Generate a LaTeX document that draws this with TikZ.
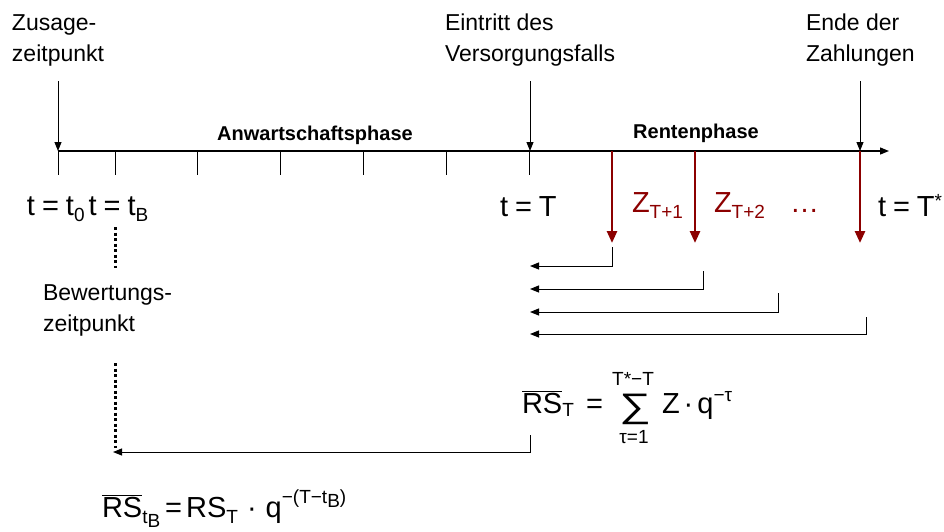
\documentclass[tikz,border=0pt]{standalone}
\usepackage{fontspec}
\setmainfont{Liberation Sans}
\usetikzlibrary{arrows.meta}
\definecolor{zred}{RGB}{140,0,0}
\newcommand{\lblf}{\fontsize{23}{31}\selectfont}
\newcommand{\mthf}{\fontsize{29}{30}\selectfont}
\newcommand{\sbsf}{\fontsize{19}{20}\selectfont}
\newcommand{\phf}{\fontsize{20}{20}\selectfont\bfseries}
\newcommand{\eqs}{\hspace{7pt}=\hspace{7pt}}
\newcommand{\sbx}[1]{\raisebox{-6pt}{\sbsf #1}}
\begin{document}
\begin{tikzpicture}[x=1pt,y=-1pt,
  every node/.style={inner sep=0pt,outer sep=0pt},
  lbl/.style={font=\lblf,align=left,anchor=base west},
  mth/.style={font=\mthf,anchor=base west},
  phase/.style={font=\phf,anchor=base},
  axisline/.style={line width=1.3pt,-{Triangle[length=9pt,width=7pt]}},
  tick/.style={line width=1pt},
  down/.style={line width=1pt,-{Triangle[length=9pt,width=7pt]}},
  pay/.style={zred,line width=2.6pt,-{Triangle[length=12pt,width=10pt]}},
  disc/.style={line width=1pt,-{Triangle[length=9pt,width=7pt]}},
  dots/.style={line width=3pt,dash pattern=on 3pt off 2.5pt}]
\useasboundingbox (0,0) rectangle (944,531);

% axis
\coordinate (a0) at (58,151);
\coordinate (aend) at (889,151);
\draw[axisline] (a0) -- (aend);
\foreach \x [count=\i] in {58,115,197,280,363,446,529}
  \draw[tick] (\x,151) coordinate (tk\i) -- (\x,175);

% top labels (base = last line)
\node[lbl] (zusage) at (12,61) {Zusage-\\zeitpunkt};
\node[lbl] (eintritt) at (445,61) {Eintritt des\\Versorgungsfalls};
\node[lbl] (ende) at (806,61) {Ende der\\Zahlungen};

\coordinate (zs0) at (58,81);  \coordinate (zs1) at (58,151);
\coordinate (ei0) at (530,81); \coordinate (ei1) at (530,151);
\coordinate (en0) at (860,81); \coordinate (en1) at (860,151);
\draw[down] (zs0) -- (zs1);
\draw[down] (ei0) -- (ei1);
\draw[down] (en0) -- (en1);

% phases
\node[phase] (anw) at (315,140) {Anwartschaftsphase};
\node[phase] (rente) at (696,138) {Rentenphase};

% time labels
\node[mth] (t0) at (27,215) {t\eqs t\sbx{0}\hspace{4pt}t\eqs t\sbx{B}};
\node[mth] (tT) at (500,216) {t\eqs T};
\node[mth] (tTs) at (878,216) {t\eqs T\raisebox{9pt}{\sbsf *}};

% payments
\coordinate (p1a) at (612,151); \coordinate (p1b) at (612,243);
\coordinate (p2a) at (695,151); \coordinate (p2b) at (695,243);
\coordinate (p3a) at (860,151); \coordinate (p3b) at (860,243);
\draw[pay] (p1a) -- (p1b);
\draw[pay] (p2a) -- (p2b);
\draw[pay] (p3a) -- (p3b);
\node[mth,text=zred] (z1) at (632,212) {Z\sbx{T+1}};
\node[mth,text=zred] (z2) at (714,212) {Z\sbx{T+2}};
\node[mth,text=zred] (zd) at (790,212) {…};

% discount brackets
\coordinate (b1) at (612,247); \coordinate (c1) at (530,266);
\coordinate (b2) at (703,271); \coordinate (c2) at (530,289);
\coordinate (b3) at (778,293); \coordinate (c3) at (530,312);
\coordinate (b4) at (866,317); \coordinate (c4) at (530,334);
\draw[disc] (b1) |- (c1);
\draw[disc] (b2) |- (c2);
\draw[disc] (b3) |- (c3);
\draw[disc] (b4) |- (c4);

% formula RS_T
\node[mth] (rst) at (522,413) {$\overline{\hbox{RS}}$\raisebox{-3pt}{\sbsf T}};
\node[mth] (rsteq) at (586,413) {=};
\node[anchor=base,font=\fontsize{34}{34}\selectfont] (sum) at (635,417) {\scalebox{1.3}[1]{∑}};
\node[anchor=base,font=\sbsf] (sumtop) at (633,385) {T*−T};
\node[anchor=base,font=\sbsf] (sumbot) at (634,443) {τ=1};
\node[mth] (zq) at (662,413) {Z\hspace{4pt}·\hspace{4pt}q\raisebox{12pt}{\sbsf −τ}};

% Bewertungszeitpunkt
\coordinate (d1a) at (115,227); \coordinate (d1b) at (115,268);
\draw[dots] (d1a) -- (d1b);
\node[lbl] (bew) at (43,331) {Bewertungs-\\zeitpunkt};
\coordinate (d2a) at (115,363); \coordinate (d2b) at (115,448);
\draw[dots] (d2a) -- (d2b);

\coordinate (e0) at (530,435); \coordinate (e1) at (113,452);
\draw[disc] (e0) |- (e1);

% formula RS_tB
\node[mth] (rstb) at (102,517) {$\overline{\hbox{RS}}$\raisebox{-6pt}{\sbsf t\raisebox{-4pt}{B}}\hspace{5pt}=\hspace{4pt}RS\sbx{T}\hspace{9pt}·\hspace{9pt}q\raisebox{14pt}{\sbsf −(T−t\raisebox{-4pt}{B})}};
\end{tikzpicture}
\end{document}
